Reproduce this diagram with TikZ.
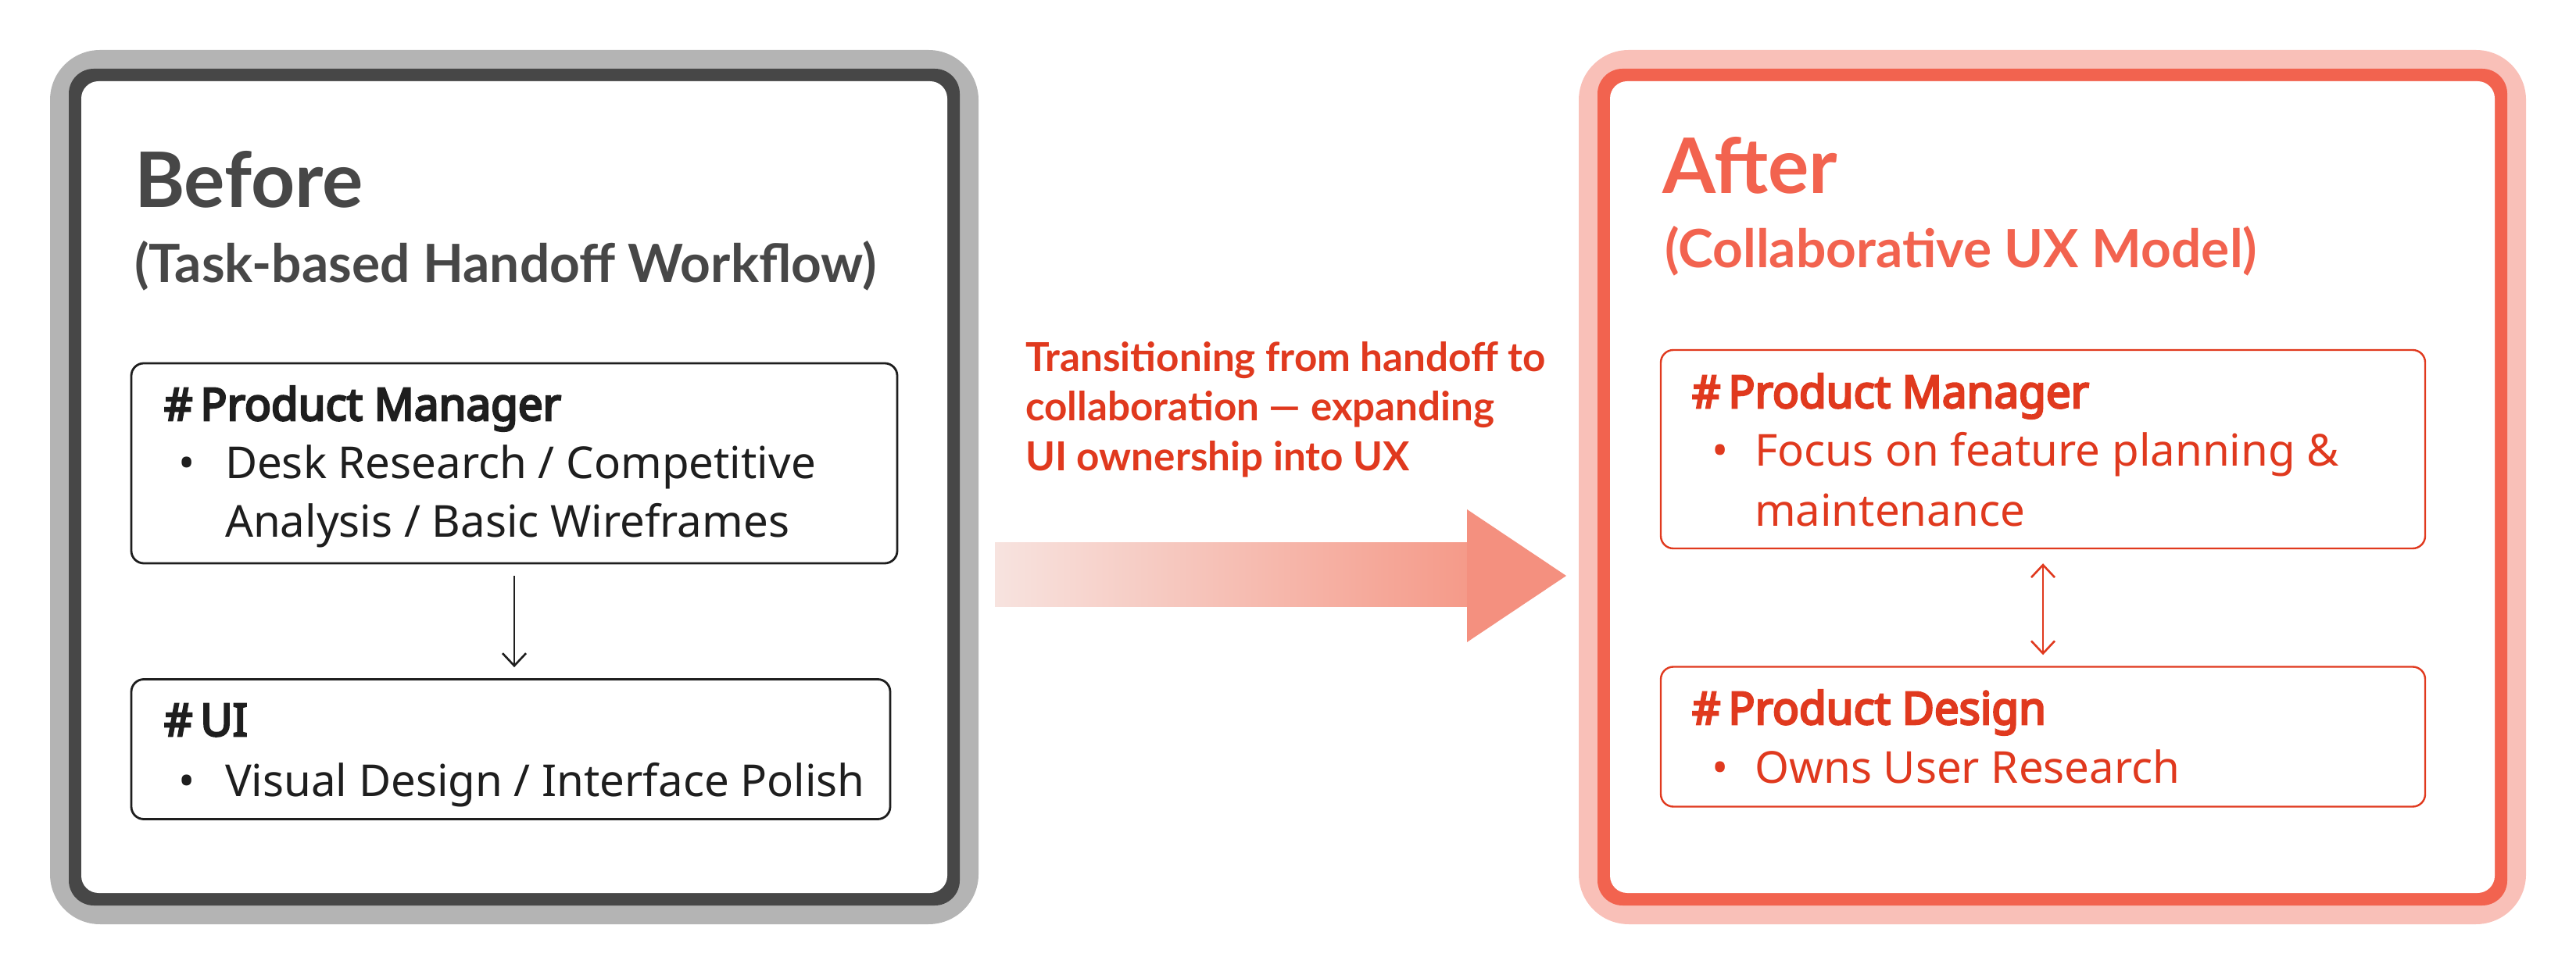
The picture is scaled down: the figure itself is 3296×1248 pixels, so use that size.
\documentclass[tikz,border=0pt]{standalone}
\usepackage{fontspec}
\setmainfont{Noto Sans}
\newfontfamily\titlefont{Lato}
\newfontfamily\headfont{Noto Sans}[FakeStretch=0.98, FakeBold=4.5]
\usetikzlibrary{arrows.meta}
\definecolor{graybd}{HTML}{B4B4B4}
\definecolor{darkbd}{HTML}{474747}
\definecolor{pinkbd}{HTML}{F9C0B8}
\definecolor{redbd}{HTML}{F2634F}
\definecolor{inkL}{HTML}{1E1E1E}
\definecolor{inkR}{HTML}{E0391E}
\definecolor{arrowL}{HTML}{F7E3DF}
\definecolor{arrowR}{HTML}{F59A89}
\definecolor{arrowH}{HTML}{F4907F}
\begin{document}
\begin{tikzpicture}[x=0.25pt,y=-0.25pt,
  txt/.style={inner sep=0pt, outer sep=0pt, anchor=base west},
  ttl/.style={txt, font=\titlefont\bfseries\fontsize{24.5pt}{29pt}\selectfont},
  sub/.style={txt, font=\titlefont\bfseries\fontsize{16.9pt}{20pt}\selectfont},
  hd/.style={txt, font=\headfont\fontsize{14.4pt}{17pt}\selectfont},
  bd/.style={txt, font=\fontsize{14.1pt}{17pt}\selectfont},
  mid/.style={txt, font=\titlefont\bfseries\fontsize{12.8pt}{15pt}\selectfont, text=inkR},
  boxL/.style={draw=inkL, line width=0.7pt, rounded corners=4pt, inner sep=0pt},
  boxR/.style={draw=inkR, line width=0.6pt, rounded corners=4pt, inner sep=0pt},
  conL/.style={draw=inkL, line width=0.65pt, -{Straight Barb[length=4pt,width=7.5pt]}},
  conR/.style={draw=inkR, line width=0.65pt, {Straight Barb[length=4pt,width=7.5pt]}-{Straight Barb[length=4pt,width=7.5pt]}}
]
\useasboundingbox (0,0) rectangle (3296,1248);

% Before frame
\fill[graybd, rounded corners=16pt] (64,64) rectangle (1252,1183);
\fill[darkbd, rounded corners=8pt] (88,88) rectangle (1228,1159);
\fill[white, rounded corners=5.5pt] (104,104) rectangle (1212,1143);

% After frame
\fill[pinkbd, rounded corners=16pt] (2020,64) rectangle (3232,1183);
\fill[redbd, rounded corners=8pt] (2044,88) rectangle (3208,1159);
\fill[white, rounded corners=5.5pt] (2060,104) rectangle (3192,1143);

% transition arrow
\shade[left color=arrowL, right color=arrowR] (1273,695) rectangle (1879,777);
\fill[arrowH] (1877,652) -- (2004,737) -- (1877,822) -- cycle;

% middle text
\node[mid] (mid1) at (1312,476) {Transitioning from handoff to};
\node[mid] (mid2) at (1312,539) {collaboration — expanding};
\node[mid] (mid3) at (1312,603) {UI ownership into UX};

% Before content
\node[ttl, text=darkbd] (before) at (172,266) {Before};
\node[sub, text=darkbd] (beforesub) at (172,362) {(Task-based Handoff Workflow)};

\node[boxL, minimum width=245pt, minimum height=64pt] (pmL) at (658,593) {};
\node[boxL, minimum width=242.75pt, minimum height=44.75pt] (uiL) at (653.5,959) {};

\node[hd, text=inkL] (pmLh) at (210,538) {\#\hspace{2.5pt}Product Manager};
\node[bd, text=inkL] (pmLb) at (228,613) {•};
\node[bd, text=inkL] (pmL1) at (288,613) {Desk Research / Competitive};
\node[bd, text=inkL] (pmL2) at (288,688) {Analysis / Basic Wireframes};

\node[hd, text=inkL] (uiLh) at (210,942) {\#\hspace{2.5pt}UI};
\node[bd, text=inkL] (uiLb) at (228,1019) {•};
\node[bd, text=inkL] (uiL1) at (288,1019) {Visual Design / Interface Polish};

\draw[conL, shorten <=3.75pt, shorten >=3.5pt] (pmL.south) -- (pmL.south |- uiL.north);

% After content
\node[ttl, text=redbd] (after) at (2127,248) {After};
\node[sub, text=redbd] (aftersub) at (2130,343) {(Collaborative UX Model)};

\node[boxR, minimum width=244.5pt, minimum height=63.5pt] (pmR) at (2614,575) {};
\node[boxR, minimum width=244.5pt, minimum height=44.75pt] (pdR) at (2614,943) {};

\node[hd, text=inkR] (pmRh) at (2165,522) {\#\hspace{2.5pt}Product Manager};
\node[bd, text=inkR] (pmRb) at (2190,597) {•};
\node[bd, text=inkR] (pmR1) at (2245,597) {Focus on feature planning \&};
\node[bd, text=inkR] (pmR2) at (2245,674) {maintenance};

\node[hd, text=inkR] (pdRh) at (2165,927) {\#\hspace{2.5pt}Product Design};
\node[bd, text=inkR] (pdRb) at (2190,1003) {•};
\node[bd, text=inkR] (pdR1) at (2245,1003) {Owns User Research};

\draw[conR, shorten <=4.5pt, shorten >=3.5pt] (pmR.south) -- (pmR.south |- pdR.north);
\end{tikzpicture}
\end{document}
